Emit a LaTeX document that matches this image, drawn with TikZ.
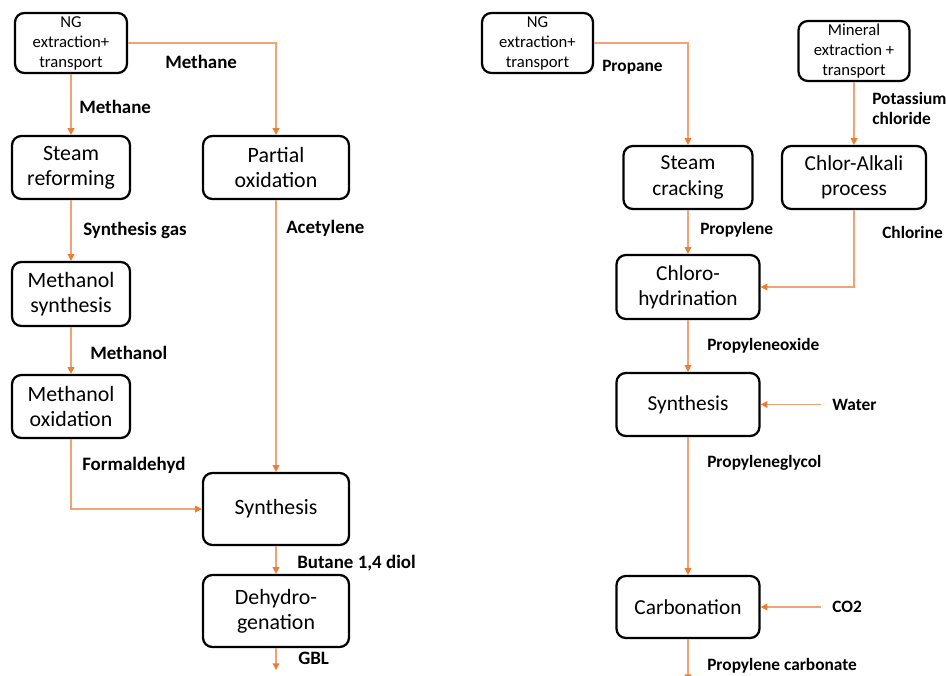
\documentclass[tikz,border=0pt]{standalone}
\usepackage{fontspec}
\setmainfont{Carlito}
\usetikzlibrary{arrows.meta}
\definecolor{flow}{HTML}{ED7D31}
\definecolor{flowlight}{HTML}{F3A273}
\tikzset{
  proc/.style={draw=black, line width=1.7pt, rounded corners=7pt, align=center,
    inner sep=0pt, font=\fontsize{16}{19}\selectfont},
  procA/.style={proc, font=\fontsize{16.4}{19}\selectfont},
  src/.style={proc, font=\fontsize{12.5}{15}\selectfont},
  wh/.style 2 args={minimum width=#1*0.75pt, minimum height=#2*0.75pt},
  lbl/.style={anchor=west, inner sep=0pt, align=left, font=\fontsize{13}{15}\selectfont\bfseries},
  lblA/.style={lbl, font=\fontsize{14.2}{16}\selectfont\bfseries},
  flowline/.style={draw=flowlight, line width=1pt, -{Triangle[length=5pt,width=5pt,color=flow]}},
}
\begin{document}
\begin{tikzpicture}[x=0.75pt, y=-0.75pt]
\useasboundingbox (0,0) rectangle (946,675);

% ---- butane-diol / GBL route ----
\node[src, wh={112}{60}] (ngA) at (71,43) {NG\\extraction+\\transport};
\node[procA, wh={118}{63}] (steamref) at (71,167.5) {Steam\\reforming};
\node[procA, wh={146}{63}] (partox) at (276,167.5) {Partial\\oxidation};
\node[procA, wh={118}{64}] (methsyn) at (71,294) {Methanol\\synthesis};
\node[procA, wh={118}{63}] (methox) at (71,406.5) {Methanol\\oxidation};
\node[procA, wh={146}{72}] (synthA) at (276,509) {Synthesis};
\node[procA, wh={146}{72}] (dehydro) at (276,611) {Dehydro-\\genation};
\coordinate (gblend) at (276,670);

\draw[flowline] (ngA.south) -- (steamref.north);
\draw[flowline] (ngA.east) -| (partox.north);
\draw[flowline] (steamref.south) -- (methsyn.north);
\draw[flowline] (methsyn.south) -- (methox.north);
\draw[flowline] (methox.south) |- (synthA.west);
\draw[flowline] (partox.south) -- (synthA.north);
\draw[flowline] (synthA.south) -- (dehydro.north);
\draw[flowline] (dehydro.south) -- (gblend);

\node[lblA] (lmeth1) at (165,62) {Methane};
\node[lblA] (lmeth2) at (79,107) {Methane};
\node[lblA] (lsyngas) at (83,230) {Synthesis gas};
\node[lblA] (lacet) at (286,228) {Acetylene};
\node[lblA] (lmethol) at (90,353) {Methanol};
\node[lblA] (lform) at (82,465) {Formaldehyd};
\node[lblA] (lbdo) at (297,563) {Butane 1,4 diol};
\node[lblA] (lgbl) at (298,658) {GBL};

% ---- propylene carbonate route ----
\node[src, wh={111}{60}] (ngB) at (537.5,43) {NG\\extraction+\\transport};
\node[src, wh={111}{60}] (mineral) at (854,51) {Mineral\\extraction +\\transport};
\node[proc, wh={129}{63}] (steamcr) at (688,177.5) {Steam\\cracking};
\node[proc, wh={144}{63}] (chloralk) at (854,177.5) {Chlor-Alkali\\process};
\node[proc, wh={143}{64}] (chloro) at (688,287) {Chloro-\\hydrination};
\node[proc, wh={143}{63}] (synthB) at (688,404.5) {Synthesis};
\node[proc, wh={143}{62}] (carb) at (688,607) {Carbonation};
\coordinate (waterin) at (821,404.5);
\coordinate (co2in) at (821,607);
\coordinate (pcend) at (688,681);

\draw[flowline] (ngB.east) -| (steamcr.north);
\draw[flowline] (mineral.south) -- (chloralk.north);
\draw[flowline] (steamcr.south) -- (chloro.north);
\draw[flowline] (chloralk.south) |- (chloro.east);
\draw[flowline] (chloro.south) -- (synthB.north);
\draw[flowline] (waterin) -- (synthB.east);
\draw[flowline] (synthB.south) -- (carb.north);
\draw[flowline] (co2in) -- (carb.east);
\draw[flowline] (carb.south) -- (pcend);

\node[lbl] (lprop) at (602,67) {Propane};
\node[lbl] (lkcl) at (872,108) {Potassium\\chloride};
\node[lbl] (lpropyl) at (700,230) {Propylene};
\node[lbl] (lcl) at (882,232) {Chlorine};
\node[lbl] (lpo) at (707,346) {Propyleneoxide};
\node[lbl] (lwater) at (832,405) {Water};
\node[lbl] (lpg) at (707,463) {Propyleneglycol};
\node[lbl] (lco2) at (832,607) {CO2};
\node[lbl] (lpc) at (707,666) {Propylene carbonate};
\end{tikzpicture}
\end{document}
